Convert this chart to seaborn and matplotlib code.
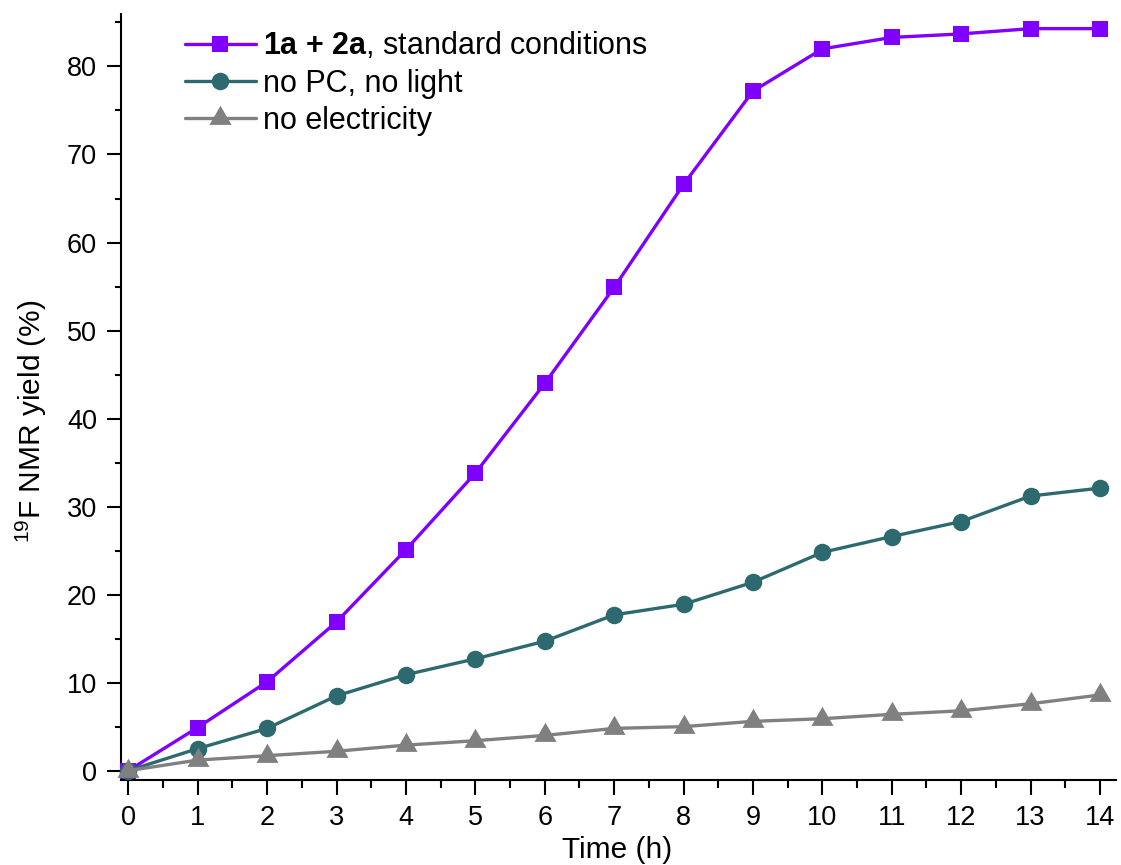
import numpy as np
import pandas as pd
import matplotlib
matplotlib.use("Agg")
import matplotlib.pyplot as plt
import seaborn as sns
from matplotlib.ticker import MultipleLocator
from matplotlib.path import Path

# Reaction yield over time for three conditions
time_h = list(range(15))
yield_standard = [0, 4.9, 10.1, 16.9, 25.1, 33.8, 44.0, 54.9, 66.6, 77.2, 82.0, 83.3, 83.7, 84.3, 84.3]
yield_no_pc_light = [0, 2.5, 4.8, 8.5, 10.9, 12.7, 14.7, 17.7, 18.9, 21.4, 24.8, 26.6, 28.3, 31.2, 32.1]
yield_no_electricity = [0, 1.2, 1.7, 2.2, 2.9, 3.4, 4.0, 4.8, 5.0, 5.6, 5.9, 6.4, 6.8, 7.6, 8.6]

series_labels = [
    r"$\mathbf{1a\ {+}\ 2a}$, standard conditions",
    "no PC, no light",
    "no electricity",
]
series_colors = ["#7F00FF", "#2D6A6F", "#808080"]

# triangle centred on its centroid, slightly wider than tall
tri = Path([(-1.15, -0.667), (1.15, -0.667), (0.0, 1.333), (-1.15, -0.667)],
           [Path.MOVETO, Path.LINETO, Path.LINETO, Path.CLOSEPOLY])
series_markers = ["s", "o", tri]
series_sizes = [12.2, 12.6, 18.4]

sns.set_style("ticks")
plt.rcParams["font.family"] = ["Liberation Sans", "DejaVu Sans"]
plt.rcParams["mathtext.fontset"] = "custom"
plt.rcParams["mathtext.rm"] = "Liberation Sans"
plt.rcParams["mathtext.bf"] = "Liberation Sans:bold"
plt.rcParams["mathtext.it"] = "Liberation Sans:italic"
plt.rcParams["text.color"] = "black"
plt.rcParams["axes.labelcolor"] = "black"
plt.rcParams["xtick.color"] = "black"
plt.rcParams["ytick.color"] = "black"

fig = plt.figure(figsize=(11.21, 8.65), dpi=100)
ax = fig.add_axes([0.1077, 0.0983, 0.8878, 0.8855])

df = pd.DataFrame({
    "time": time_h * 3,
    "yield": yield_standard + yield_no_pc_light + yield_no_electricity,
    "series": [series_labels[0]] * 15 + [series_labels[1]] * 15 + [series_labels[2]] * 15,
})

for lab, col, mk, ms in zip(series_labels, series_colors, series_markers, series_sizes):
    sub = df[df["series"] == lab]
    sns.lineplot(data=sub, x="time", y="yield", ax=ax, color=col, marker=mk,
                 markersize=ms, markeredgewidth=0, linewidth=2.4, label=lab,
                 clip_on=False, zorder=3)

ax.set_xlim(-0.109, 14.23)
ax.set_ylim(-1.06, 85.96)
ax.xaxis.set_major_locator(MultipleLocator(1))
ax.xaxis.set_minor_locator(MultipleLocator(0.5))
ax.yaxis.set_major_locator(MultipleLocator(10))
ax.yaxis.set_minor_locator(MultipleLocator(5))

for s in ["top", "right"]:
    ax.spines[s].set_visible(False)
for s in ["left", "bottom"]:
    ax.spines[s].set_linewidth(1.5)
    ax.spines[s].set_color("black")

ax.tick_params(axis="x", which="major", length=10.8, width=1.5, direction="out",
               labelsize=19.5, pad=7, colors="black")
ax.tick_params(axis="x", which="minor", length=5.8, width=1.5, direction="out",
               colors="black")
ax.tick_params(axis="y", which="major", length=10, width=1.5, direction="out",
               labelsize=19.5, pad=7, colors="black")
ax.tick_params(axis="y", which="minor", length=4.5, width=1.5, direction="out",
               colors="black")

ax.set_xlabel("Time (h)", fontsize=21.5, color="black")
ax.set_ylabel(r"$^{19}$F NMR yield (%)", fontsize=21.5, color="black")
ax.xaxis.label.set_va("center")
ax.yaxis.label.set_va("center")
ax.xaxis.set_label_coords(0.4986, -0.0914)
ax.yaxis.set_label_coords(-0.0895, 0.469)

leg = ax.legend(loc="upper left", bbox_to_anchor=(0.0646, 0.9785), frameon=False,
                fontsize=22, handlelength=2.32, handletextpad=0.23, labelspacing=0.23,
                borderpad=0, borderaxespad=0)
for t in leg.get_texts():
    t.set_color("black")

fig.savefig("out.png", dpi=100)
